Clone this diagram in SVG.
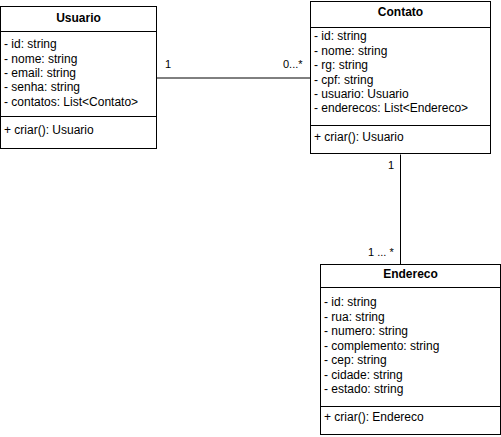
<svg xmlns="http://www.w3.org/2000/svg" width="501" height="437" viewBox="0 0 501 437">
<style>
.box{fill:#fff;stroke:#000;stroke-width:1}
.div{stroke:#000;stroke-width:1}
.t{font-family:"Liberation Sans",Arial,sans-serif;font-size:12px;fill:#000}
.l{font-family:"Liberation Sans",Arial,sans-serif;font-size:11px;fill:#000}
.h{font-family:"Liberation Sans",Arial,sans-serif;font-size:12px;font-weight:bold;fill:#000;text-anchor:middle}
.c{stroke:#000;stroke-width:1;fill:none}
</style>
<rect width="501" height="437" fill="#fff"/>
<g id="connectors">
<line class="c" x1="156.5" y1="78" x2="310.5" y2="78"/>
<line class="c" x1="400.5" y1="154.5" x2="400.5" y2="264.5"/>
<text class="l" x="165" y="68">1</text>
<text class="l" x="283" y="68">0...*</text>
<text class="l" x="388" y="169">1</text>
<text class="l" x="368" y="256">1 ... *</text>
</g>
<g id="Usuario">
<rect class="box" x="0.5" y="6.5" width="156" height="142"/>
<line class="div" x1="0.5" y1="31.5" x2="156.5" y2="31.5"/>
<line class="div" x1="0.5" y1="116.5" x2="156.5" y2="116.5"/>
<text class="h" x="78.5" y="22">Usuario</text>
<text class="t" x="4" y="48">- id: string</text>
<text class="t" x="4" y="63">- nome: string</text>
<text class="t" x="4" y="77">- email: string</text>
<text class="t" x="4" y="91">- senha: string</text>
<text class="t" x="4" y="106">- contatos: List&lt;Contato&gt;</text>
<text class="t" x="4" y="134">+ criar(): Usuario</text>
</g>
<g id="Contato">
<rect class="box" x="310.5" y="1.5" width="180" height="152"/>
<line class="div" x1="310.5" y1="27.5" x2="490.5" y2="27.5"/>
<line class="div" x1="310.5" y1="125.5" x2="490.5" y2="125.5"/>
<text class="h" x="400.5" y="16">Contato</text>
<text class="t" x="314" y="40">- id: string</text>
<text class="t" x="314" y="55">- nome: string</text>
<text class="t" x="314" y="69">- rg: string</text>
<text class="t" x="314" y="84">- cpf: string</text>
<text class="t" x="314" y="98">- usuario: Usuario</text>
<text class="t" x="314" y="112">- enderecos: List&lt;Endereco&gt;</text>
<text class="t" x="314" y="141">+ criar(): Usuario</text>
</g>
<g id="Endereco">
<rect class="box" x="320.5" y="264.5" width="180" height="170"/>
<line class="div" x1="320.5" y1="287.5" x2="500.5" y2="287.5"/>
<line class="div" x1="320.5" y1="406.5" x2="500.5" y2="406.5"/>
<text class="h" x="410.5" y="278">Endereco</text>
<text class="t" x="324" y="306">- id: string</text>
<text class="t" x="324" y="321">- rua: string</text>
<text class="t" x="324" y="335">- numero: string</text>
<text class="t" x="324" y="350">- complemento: string</text>
<text class="t" x="324" y="364">- cep: string</text>
<text class="t" x="324" y="379">- cidade: string</text>
<text class="t" x="324" y="393">- estado: string</text>
<text class="t" x="324" y="421">+ criar(): Endereco</text>
</g>
</svg>
